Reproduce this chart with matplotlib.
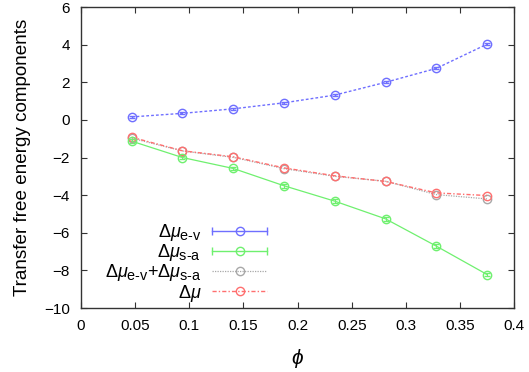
import matplotlib
matplotlib.use("Agg")
import matplotlib.pyplot as plt
from matplotlib.lines import Line2D
from matplotlib.legend_handler import HandlerLine2D, HandlerTuple
import matplotlib._mathtext as _mt

_mt.SHRINK_FACTOR = 0.8

plt.rcParams['font.family'] = ['Liberation Sans', 'DejaVu Sans']
plt.rcParams['mathtext.fontset'] = 'custom'
plt.rcParams['mathtext.rm'] = 'Liberation Sans'
plt.rcParams['mathtext.it'] = 'Liberation Sans:italic'
plt.rcParams['mathtext.sf'] = 'Liberation Sans'

phi = [0.046875, 0.09375, 0.140625, 0.1875, 0.234375, 0.28125, 0.328125, 0.375]
mu_ev = [0.16, 0.35, 0.59, 0.91, 1.32, 2.0, 2.74, 4.03]
mu_sa = [-1.13, -2.0, -2.58, -3.5, -4.32, -5.26, -6.71, -8.22]
mu_sum = [-0.97, -1.65, -1.99, -2.59, -3.0, -3.26, -3.97, -4.2]
mu_tot = [-0.92, -1.64, -1.96, -2.55, -2.97, -3.27, -3.88, -4.02]

labels = [r'$\Delta\mu_{\rm e\text{-}v}$', r'$\Delta\mu_{\rm s\text{-}a}$',
          r'$\Delta\mu_{\rm e\text{-}v}$+$\Delta\mu_{\rm s\text{-}a}$', r'$\Delta\mu$']
colors = ['#6f6fff', '#6ff06f', '#a8a8a8', '#ff6f6f']

fig = plt.figure(figsize=(5.29, 3.72), dpi=100)
ax = fig.add_axes([0.153, 0.172, 0.819, 0.809])

ms = 6
ls_ev = (0, (2, 1.5))
ls_sum = (0, (1, 1))
ls_tot = (0, (3, 1.5, 1, 1.5))
ax.errorbar(phi, mu_ev, yerr=0.05, color=colors[0], lw=1.0, ls=ls_ev,
            marker='o', mfc='none', ms=ms, mew=1.0, capsize=2.5, elinewidth=0.8)
ax.errorbar(phi, mu_sa, yerr=0.1, color=colors[1], lw=0.9, ls='-',
            marker='o', mfc='none', ms=ms, mew=1.0, capsize=2.5, elinewidth=0.8)
ax.plot(phi, mu_sum, color=colors[2], lw=0.9, ls=ls_sum,
        marker='o', mfc='none', ms=ms, mew=1.0)
ax.plot(phi, mu_tot, color=colors[3], lw=1.0, ls=ls_tot,
        marker='o', mfc='none', ms=ms, mew=1.0)

ax.set_xlim(0, 0.4)
ax.set_ylim(-10, 6)
ax.set_xticks([0, 0.05, 0.1, 0.15, 0.2, 0.25, 0.3, 0.35, 0.4])
ax.set_xticklabels(['0', '0.05', '0.1', '0.15', '0.2', '0.25', '0.3', '0.35', '0.4'])
ax.set_yticks([-10, -8, -6, -4, -2, 0, 2, 4, 6])
ax.tick_params(direction='in', top=True, right=True, length=4, width=0.8,
               labelsize=11, pad=8, color='#333333')
for s in ax.spines.values():
    s.set_linewidth(1.0)
    s.set_color('#333333')

ax.set_ylabel('Transfer free energy components', fontsize=13.6, labelpad=9)
ax.set_xlabel(r'$\phi$', fontsize=15, labelpad=10)

# legend proxies
handles = []
hmap = {}
for c in colors[:2]:
    cap = Line2D([], [], color=c, lw=1.0, ls='-', marker='|', ms=6, mew=1.0)
    circ = Line2D([], [], color=c, ls='none', marker='o', mfc='none', ms=ms, mew=1.0)
    hmap[cap] = HandlerLine2D(numpoints=2, marker_pad=0)
    hmap[circ] = HandlerLine2D(numpoints=1)
    handles.append((cap, circ))
handles.append(Line2D([], [], color=colors[2], lw=0.9, ls=ls_sum, marker='o',
                      mfc='none', ms=ms, mew=1.0))
handles.append(Line2D([], [], color=colors[3], lw=1.0, ls=ls_tot, marker='o',
                      mfc='none', ms=ms, mew=1.0))
hmap[tuple] = HandlerTuple(ndivide=1, pad=0)

leg = ax.legend(handles, labels, loc='lower right', handler_map=hmap,
                bbox_to_anchor=(0.43, 0.015), markerfirst=False, frameon=False,
                fontsize=13, handlelength=3.05, handletextpad=0.6, numpoints=1,
                labelspacing=-0.05, borderaxespad=0, borderpad=0)
for t in leg.get_texts():
    t.set_ha('right')

fig.savefig('out.png', dpi=100)
